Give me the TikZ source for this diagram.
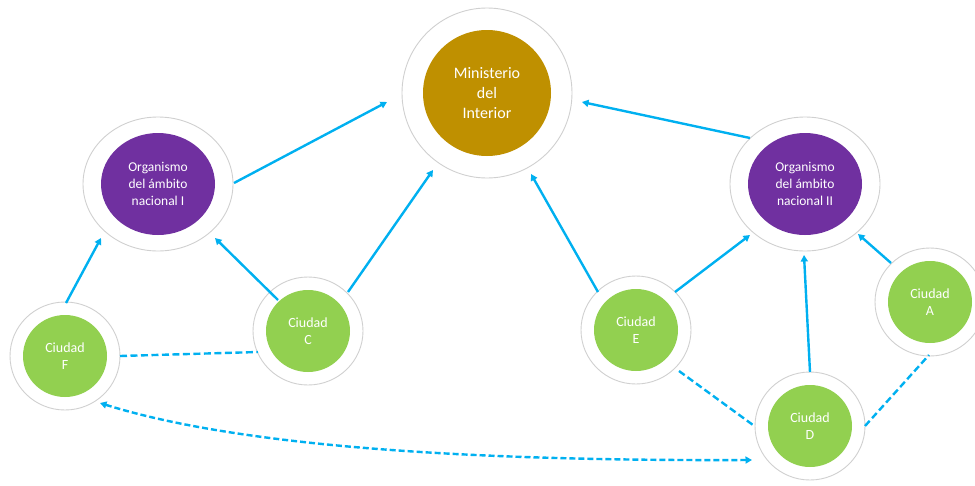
\documentclass[tikz,border=0pt]{standalone}
\usepackage{fontspec}
\setmainfont{Carlito}
\usetikzlibrary{arrows.meta,calc,shapes.geometric}

\definecolor{ringgray}{HTML}{D0D0D0}
\definecolor{ministry}{HTML}{BF9000}
\definecolor{agency}{HTML}{7030A0}
\definecolor{city}{HTML}{92D050}
\definecolor{link}{HTML}{00B0F0}

\tikzset{
  ring/.style={ellipse, draw=ringgray, line width=0.9pt, fill=white, inner sep=0pt},
  core/.style={ellipse, inner sep=0pt, text=white, align=center},
  hubcore/.style={core, fill=ministry, minimum width=128pt, minimum height=126pt,
                  font=\fontsize{16}{20}\selectfont},
  agencycore/.style={core, fill=agency, minimum width=114pt, minimum height=102pt,
                  font=\fontsize{13.5}{16.8}\selectfont},
  citycore/.style={core, fill=city, minimum width=84pt, minimum height=82pt,
                  font=\fontsize{14}{17}\selectfont},
  feeds/.style={draw=link, line width=2.4pt, -{Triangle[length=6.5pt,width=7pt]}},
  peer/.style={draw=link, line width=2.4pt, dash pattern=on 7pt off 3.5pt},
  twoway/.style={draw=link, line width=2.4pt, dash pattern=on 6pt off 3pt,
                 {Triangle[length=6.5pt,width=7pt]}-{Triangle[length=6.5pt,width=7pt]}}
}

\begin{document}
\begin{tikzpicture}[x=1pt,y=-1pt]
\useasboundingbox (0,0) rectangle (975,485);

% outer rings
\node[ring, minimum width=170pt, minimum height=170pt] (min) at (487,93) {};
\node[ring, minimum width=150pt, minimum height=134pt] (orgI) at (158,184) {};
\node[ring, minimum width=150pt, minimum height=134pt] (orgII) at (805,184) {};
\node[ring, minimum width=110pt, minimum height=108pt] (F) at (65,356) {};
\node[ring, minimum width=110pt, minimum height=108pt] (C) at (308,331) {};
\node[ring, minimum width=110pt, minimum height=108pt] (E) at (636,330) {};
\node[ring, minimum width=110pt, minimum height=108pt] (A) at (930,302) {};
\node[ring, minimum width=110pt, minimum height=108pt] (D) at (810,426) {};

% filled cores with labels
\node[hubcore] (minc) at (min) {Ministerio\\del\\Interior};
\node[agencycore] (orgIc) at (orgI) {Organismo\\del ámbito\\nacional I};
\node[agencycore] (orgIIc) at (orgII) {Organismo\\del ámbito\\nacional II};
\node[citycore] (Fc) at (F) {Ciudad\\F};
\node[citycore] (Cc) at (C) {Ciudad\\C};
\node[citycore] (Ec) at (E) {Ciudad\\E};
\node[citycore] (Ac) at (A) {Ciudad\\A};
\node[citycore] (Dc) at (D) {Ciudad\\D};

% reporting lines
\draw[feeds] ($(orgI)+(76,-1)$) -- ($(min)+(-100,9)$);
\draw[feeds] ($(orgII)+(-55,-46)$) -- ($(min)+(95,9)$);
\draw[feeds] ($(C)+(-30,-31)$) -- ($(orgI)+(57,54)$);
\draw[feeds] ($(C)+(40,-39)$) -- ($(min)+(-54,77)$);
\draw[feeds] ($(F)+(1,-53)$) -- ($(orgI)+(-57,54)$);
\draw[feeds] ($(E)+(-38,-38)$) -- ($(min)+(44,81)$);
\draw[feeds] ($(E)+(39,-38)$) -- ($(orgII)+(-55,51)$);
\draw[feeds] ($(D)+(0,-54)$) -- ($(orgII)+(-1,71)$);
\draw[feeds] ($(A)+(-39,-39)$) -- ($(orgII)+(53,50)$);

% links between cities
\draw[peer] ($(F)+(55,0)$) -- ($(C)+(-50,21)$);
\draw[peer] ($(E)+(43,41)$) -- ($(D)+(-57,-1)$);
\draw[peer] ($(D)+(55,0)$) -- ($(A)+(-1,53)$);
\draw[twoway] ($(F)+(35,47)$) .. controls (250,450) and (500,461) .. ($(D)+(-58,34)$);
\end{tikzpicture}
\end{document}
